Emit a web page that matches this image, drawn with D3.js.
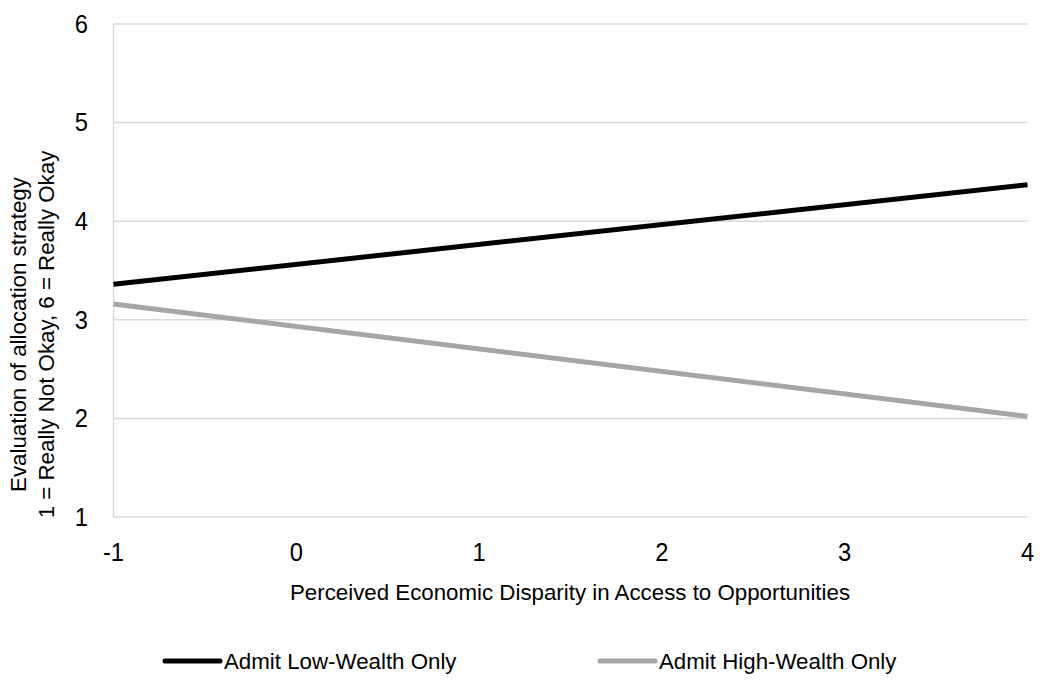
<!DOCTYPE html>
<html><head><meta charset="utf-8">
<script src="https://cdn.jsdelivr.net/npm/d3@7"></script>
<style>body{margin:0;background:#fff}text{font-family:"Liberation Sans",Arial,sans-serif;fill:#000}</style>
</head><body><svg id="c" width="1050" height="681"></svg>
<script>
const xTicks = [-1, 0, 1, 2, 3, 4];
const yTicks = [1, 2, 3, 4, 5, 6];
const xValues = [-1, 4];
const lowWealth = [3.36, 4.37];
const highWealth = [3.16, 2.02];
const seriesNames = ["Admit Low-Wealth Only", "Admit High-Wealth Only"];
const seriesColors = ["#000000", "#a6a6a6"];
const xTitle = "Perceived Economic Disparity in Access to Opportunities";
const yTitle = ["Evaluation of allocation strategy", "1 = Really Not Okay, 6 = Really Okay"];

const svg = d3.select("#c");
const x = d3.scaleLinear().domain([-1, 4]).range([113.5, 1027.5]);
const y = d3.scaleLinear().domain([1, 6]).range([517, 24]);
const SX = 0.95;

// gridlines
svg.append("g").selectAll("line").data(yTicks).join("line")
  .attr("x1", x(-1)).attr("x2", x(4))
  .attr("y1", d => y(d)).attr("y2", d => y(d))
  .attr("stroke", "#d9d9d9").attr("stroke-width", 1.5);
// left axis line
svg.append("line").attr("x1", x(-1)).attr("x2", x(-1)).attr("y1", y(6)).attr("y2", y(1))
  .attr("stroke", "#d9d9d9").attr("stroke-width", 1.5);

// y tick labels
svg.append("g").selectAll("text").data(yTicks).join("text")
  .attr("transform", d => `translate(88,${y(d)}) scale(${SX},1)`).attr("dy", "0.35em")
  .attr("text-anchor", "end").style("font-size", "25px").text(d => d);
// x tick labels
svg.append("g").selectAll("text").data(xTicks).join("text")
  .attr("transform", d => `translate(${x(d)},552) scale(${SX},1)`).attr("dy", "0.35em")
  .attr("text-anchor", "middle").style("font-size", "25px").text(d => d);

// x title
svg.append("text").attr("transform", `translate(570,592) scale(0.97,1)`).attr("dy", "0.35em")
  .attr("text-anchor", "middle").style("font-size", "23px").text(xTitle);
// y title
yTitle.forEach((t, i) => {
  svg.append("text").attr("transform", `translate(${18 + i * 28},${y(3.5) + 64}) rotate(-90) scale(0.97,1)`)
    .attr("dy", "0.35em").attr("text-anchor", "middle").style("font-size", "23px").text(t);
});

const line = d3.line().x((d, i) => x(xValues[i])).y(d => y(d));
[lowWealth, highWealth].forEach((s, i) => {
  svg.append("path").datum(s).attr("d", line).attr("fill", "none")
    .attr("stroke", seriesColors[i]).attr("stroke-width", 5);
});

// legend
const legX = [165, 600];
seriesNames.forEach((n, i) => {
  svg.append("line").attr("x1", legX[i]).attr("x2", legX[i] + 55).attr("y1", 661).attr("y2", 661)
    .attr("stroke", seriesColors[i]).attr("stroke-width", 5).attr("stroke-linecap", "round");
  svg.append("text").attr("transform", `translate(${legX[i] + 59},661) scale(0.97,1)`).attr("dy", "0.35em")
    .style("font-size", "23px").text(n);
});
</script></body></html>
